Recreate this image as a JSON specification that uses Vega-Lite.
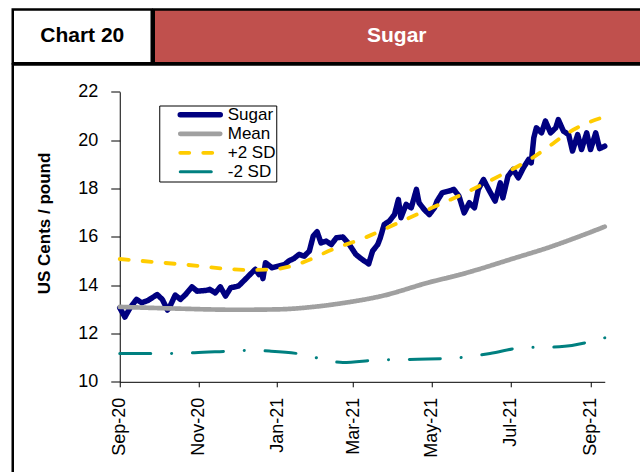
{
  "$schema": "https://vega.github.io/schema/vega-lite/v6.json",
  "padding": {"left": 10.75, "top": 7.5, "right": 0, "bottom": 0},
  "background": "white",
  "spacing": -2.5,
  "bounds": "full",
  "config": {
    "view": {"stroke": null},
    "font": "Liberation Sans"
  },
  "datasets": {
    "sugar": [
      {"date": "2020-09-01", "value": 13.06, "series": "Sugar"},
      {"date": "2020-09-05", "value": 12.68, "series": "Sugar"},
      {"date": "2020-09-09", "value": 13.06, "series": "Sugar"},
      {"date": "2020-09-14", "value": 13.41, "series": "Sugar"},
      {"date": "2020-09-18", "value": 13.27, "series": "Sugar"},
      {"date": "2020-09-23", "value": 13.37, "series": "Sugar"},
      {"date": "2020-09-30", "value": 13.61, "series": "Sugar"},
      {"date": "2020-10-04", "value": 13.41, "series": "Sugar"},
      {"date": "2020-10-08", "value": 12.97, "series": "Sugar"},
      {"date": "2020-10-10", "value": 13.13, "series": "Sugar"},
      {"date": "2020-10-14", "value": 13.59, "series": "Sugar"},
      {"date": "2020-10-18", "value": 13.41, "series": "Sugar"},
      {"date": "2020-10-22", "value": 13.61, "series": "Sugar"},
      {"date": "2020-10-27", "value": 13.93, "series": "Sugar"},
      {"date": "2020-10-31", "value": 13.75, "series": "Sugar"},
      {"date": "2020-11-07", "value": 13.78, "series": "Sugar"},
      {"date": "2020-11-10", "value": 13.82, "series": "Sugar"},
      {"date": "2020-11-14", "value": 13.68, "series": "Sugar"},
      {"date": "2020-11-18", "value": 13.93, "series": "Sugar"},
      {"date": "2020-11-22", "value": 13.55, "series": "Sugar"},
      {"date": "2020-11-26", "value": 13.89, "series": "Sugar"},
      {"date": "2020-12-02", "value": 13.96, "series": "Sugar"},
      {"date": "2020-12-06", "value": 14.17, "series": "Sugar"},
      {"date": "2020-12-11", "value": 14.44, "series": "Sugar"},
      {"date": "2020-12-15", "value": 14.65, "series": "Sugar"},
      {"date": "2020-12-18", "value": 14.44, "series": "Sugar"},
      {"date": "2020-12-20", "value": 14.58, "series": "Sugar"},
      {"date": "2020-12-21", "value": 14.27, "series": "Sugar"},
      {"date": "2020-12-23", "value": 14.93, "series": "Sugar"},
      {"date": "2020-12-28", "value": 14.72, "series": "Sugar"},
      {"date": "2021-01-02", "value": 14.79, "series": "Sugar"},
      {"date": "2021-01-07", "value": 14.86, "series": "Sugar"},
      {"date": "2021-01-10", "value": 15.0, "series": "Sugar"},
      {"date": "2021-01-14", "value": 15.1, "series": "Sugar"},
      {"date": "2021-01-18", "value": 15.27, "series": "Sugar"},
      {"date": "2021-01-22", "value": 15.2, "series": "Sugar"},
      {"date": "2021-01-26", "value": 15.41, "series": "Sugar"},
      {"date": "2021-01-29", "value": 16.03, "series": "Sugar"},
      {"date": "2021-02-01", "value": 16.21, "series": "Sugar"},
      {"date": "2021-02-04", "value": 15.75, "series": "Sugar"},
      {"date": "2021-02-08", "value": 15.82, "series": "Sugar"},
      {"date": "2021-02-12", "value": 15.68, "series": "Sugar"},
      {"date": "2021-02-16", "value": 15.96, "series": "Sugar"},
      {"date": "2021-02-21", "value": 15.99, "series": "Sugar"},
      {"date": "2021-02-26", "value": 15.68, "series": "Sugar"},
      {"date": "2021-03-03", "value": 15.27, "series": "Sugar"},
      {"date": "2021-03-08", "value": 15.06, "series": "Sugar"},
      {"date": "2021-03-13", "value": 14.88, "series": "Sugar"},
      {"date": "2021-03-16", "value": 15.41, "series": "Sugar"},
      {"date": "2021-03-20", "value": 15.68, "series": "Sugar"},
      {"date": "2021-03-22", "value": 15.96, "series": "Sugar"},
      {"date": "2021-03-25", "value": 16.51, "series": "Sugar"},
      {"date": "2021-03-29", "value": 16.65, "series": "Sugar"},
      {"date": "2021-04-02", "value": 16.92, "series": "Sugar"},
      {"date": "2021-04-05", "value": 17.54, "series": "Sugar"},
      {"date": "2021-04-07", "value": 16.79, "series": "Sugar"},
      {"date": "2021-04-11", "value": 17.34, "series": "Sugar"},
      {"date": "2021-04-15", "value": 17.2, "series": "Sugar"},
      {"date": "2021-04-19", "value": 17.96, "series": "Sugar"},
      {"date": "2021-04-21", "value": 17.41, "series": "Sugar"},
      {"date": "2021-04-25", "value": 17.13, "series": "Sugar"},
      {"date": "2021-04-29", "value": 16.92, "series": "Sugar"},
      {"date": "2021-05-03", "value": 17.2, "series": "Sugar"},
      {"date": "2021-05-05", "value": 17.48, "series": "Sugar"},
      {"date": "2021-05-09", "value": 17.82, "series": "Sugar"},
      {"date": "2021-05-14", "value": 17.89, "series": "Sugar"},
      {"date": "2021-05-18", "value": 17.96, "series": "Sugar"},
      {"date": "2021-05-22", "value": 17.68, "series": "Sugar"},
      {"date": "2021-05-26", "value": 16.99, "series": "Sugar"},
      {"date": "2021-05-30", "value": 17.41, "series": "Sugar"},
      {"date": "2021-06-03", "value": 17.2, "series": "Sugar"},
      {"date": "2021-06-06", "value": 17.96, "series": "Sugar"},
      {"date": "2021-06-10", "value": 18.37, "series": "Sugar"},
      {"date": "2021-06-14", "value": 17.96, "series": "Sugar"},
      {"date": "2021-06-19", "value": 17.48, "series": "Sugar"},
      {"date": "2021-06-23", "value": 18.23, "series": "Sugar"},
      {"date": "2021-06-25", "value": 17.61, "series": "Sugar"},
      {"date": "2021-06-29", "value": 18.51, "series": "Sugar"},
      {"date": "2021-07-03", "value": 18.79, "series": "Sugar"},
      {"date": "2021-07-07", "value": 18.44, "series": "Sugar"},
      {"date": "2021-07-11", "value": 18.86, "series": "Sugar"},
      {"date": "2021-07-15", "value": 19.2, "series": "Sugar"},
      {"date": "2021-07-17", "value": 19.06, "series": "Sugar"},
      {"date": "2021-07-19", "value": 20.1, "series": "Sugar"},
      {"date": "2021-07-21", "value": 20.51, "series": "Sugar"},
      {"date": "2021-07-25", "value": 20.3, "series": "Sugar"},
      {"date": "2021-07-28", "value": 20.79, "series": "Sugar"},
      {"date": "2021-08-01", "value": 20.3, "series": "Sugar"},
      {"date": "2021-08-05", "value": 20.51, "series": "Sugar"},
      {"date": "2021-08-07", "value": 20.85, "series": "Sugar"},
      {"date": "2021-08-11", "value": 20.37, "series": "Sugar"},
      {"date": "2021-08-15", "value": 20.23, "series": "Sugar"},
      {"date": "2021-08-18", "value": 19.55, "series": "Sugar"},
      {"date": "2021-08-22", "value": 20.23, "series": "Sugar"},
      {"date": "2021-08-25", "value": 19.61, "series": "Sugar"},
      {"date": "2021-08-29", "value": 20.3, "series": "Sugar"},
      {"date": "2021-09-01", "value": 19.61, "series": "Sugar"},
      {"date": "2021-09-05", "value": 20.3, "series": "Sugar"},
      {"date": "2021-09-08", "value": 19.65, "series": "Sugar"},
      {"date": "2021-09-12", "value": 19.75, "series": "Sugar"}
    ],
    "bands": [
      {"date": "2020-09-01", "value": 13.1, "series": "Mean"},
      {"date": "2020-10-15", "value": 13.03, "series": "Mean"},
      {"date": "2020-12-01", "value": 12.98, "series": "Mean"},
      {"date": "2021-01-03", "value": 13.0, "series": "Mean"},
      {"date": "2021-01-29", "value": 13.1, "series": "Mean"},
      {"date": "2021-02-20", "value": 13.25, "series": "Mean"},
      {"date": "2021-03-24", "value": 13.56, "series": "Mean"},
      {"date": "2021-04-28", "value": 14.1, "series": "Mean"},
      {"date": "2021-05-24", "value": 14.45, "series": "Mean"},
      {"date": "2021-07-03", "value": 15.1, "series": "Mean"},
      {"date": "2021-07-30", "value": 15.55, "series": "Mean"},
      {"date": "2021-08-25", "value": 16.05, "series": "Mean"},
      {"date": "2021-09-12", "value": 16.42, "series": "Mean"},
      {"date": "2020-09-01", "value": 15.08, "series": "+2 SD"},
      {"date": "2020-10-19", "value": 14.86, "series": "+2 SD"},
      {"date": "2020-12-10", "value": 14.63, "series": "+2 SD"},
      {"date": "2020-12-28", "value": 14.65, "series": "+2 SD"},
      {"date": "2021-01-20", "value": 14.92, "series": "+2 SD"},
      {"date": "2021-02-13", "value": 15.48, "series": "+2 SD"},
      {"date": "2021-03-10", "value": 15.96, "series": "+2 SD"},
      {"date": "2021-04-05", "value": 16.58, "series": "+2 SD"},
      {"date": "2021-05-01", "value": 17.2, "series": "+2 SD"},
      {"date": "2021-05-27", "value": 17.82, "series": "+2 SD"},
      {"date": "2021-06-22", "value": 18.51, "series": "+2 SD"},
      {"date": "2021-07-18", "value": 19.27, "series": "+2 SD"},
      {"date": "2021-07-31", "value": 19.75, "series": "+2 SD"},
      {"date": "2021-08-13", "value": 20.25, "series": "+2 SD"},
      {"date": "2021-08-30", "value": 20.72, "series": "+2 SD"},
      {"date": "2021-09-12", "value": 20.97, "series": "+2 SD"},
      {"date": "2020-09-01", "value": 11.17, "series": "\u00a0-2 SD"},
      {"date": "2020-09-29", "value": 11.17, "series": "\u00a0-2 SD"},
      {"date": "2020-10-29", "value": 11.2, "series": "\u00a0-2 SD"},
      {"date": "2020-11-26", "value": 11.27, "series": "\u00a0-2 SD"},
      {"date": "2020-12-11", "value": 11.3, "series": "\u00a0-2 SD"},
      {"date": "2020-12-26", "value": 11.27, "series": "\u00a0-2 SD"},
      {"date": "2021-01-23", "value": 11.11, "series": "\u00a0-2 SD"},
      {"date": "2021-02-06", "value": 10.92, "series": "\u00a0-2 SD"},
      {"date": "2021-02-21", "value": 10.8, "series": "\u00a0-2 SD"},
      {"date": "2021-03-20", "value": 10.9, "series": "\u00a0-2 SD"},
      {"date": "2021-04-20", "value": 10.93, "series": "\u00a0-2 SD"},
      {"date": "2021-05-16", "value": 10.97, "series": "\u00a0-2 SD"},
      {"date": "2021-06-01", "value": 11.06, "series": "\u00a0-2 SD"},
      {"date": "2021-06-15", "value": 11.17, "series": "\u00a0-2 SD"},
      {"date": "2021-07-14", "value": 11.43, "series": "\u00a0-2 SD"},
      {"date": "2021-07-29", "value": 11.43, "series": "\u00a0-2 SD"},
      {"date": "2021-08-12", "value": 11.47, "series": "\u00a0-2 SD"},
      {"date": "2021-09-12", "value": 11.82, "series": "\u00a0-2 SD"}
    ]
  },
  "vconcat": [
    {
      "hconcat": [
        {
          "width": 139,
          "height": 53.75,
          "view": {"fill": "white", "stroke": "black", "strokeWidth": 2.5},
          "data": {"values": [{"t": "Chart 20"}]},
          "mark": {"type": "text", "fontSize": 21, "fontWeight": "bold", "color": "black", "align": "center", "baseline": "middle", "font": "Liberation Sans"},
          "encoding": {"text": {"field": "t"}}
        },
        {
          "width": 500,
          "height": 53.75,
          "view": {"fill": "#C0504D", "stroke": "black", "strokeWidth": 2.5},
          "data": {"values": [{"t": "Sugar"}]},
          "mark": {"type": "text", "fontSize": 21, "fontWeight": "bold", "color": "white", "align": "center", "baseline": "middle", "dx": -7, "font": "Liberation Sans"},
          "encoding": {"text": {"field": "t"}}
        }
      ],
      "spacing": -2.5,
      "bounds": "full"
    },
    {
      "width": 632,
      "height": 412,
      "view": {"fill": "white", "stroke": "black", "strokeWidth": 2.5},
      "encoding": {
        "x": {
          "field": "date",
          "type": "temporal",
          "scale": {
            "type": "utc",
            "domain": [{"year": 2020, "month": 9, "date": 1, "utc": true}, {"year": 2021, "month": 9, "date": 12, "utc": true}],
            "range": [107, 592],
            "nice": false
          },
          "axis": {
            "title": null,
            "orient": "bottom",
            "offset": -94.7,
            "values": [
              {"year": 2020, "month": 9, "date": 1, "utc": true},
              {"year": 2020, "month": 11, "date": 1, "utc": true},
              {"year": 2021, "month": 1, "date": 1, "utc": true},
              {"year": 2021, "month": 3, "date": 1, "utc": true},
              {"year": 2021, "month": 5, "date": 1, "utc": true},
              {"year": 2021, "month": 7, "date": 1, "utc": true},
              {"year": 2021, "month": 9, "date": 1, "utc": true}
            ],
            "labelExpr": "utcFormat(datum.value, '%b-%y')",
            "labelAngle": 270,
            "labelAlign": "right",
            "labelBaseline": "middle",
            "labelFontSize": 18,
            "labelFont": "Liberation Sans",
            "labelColor": "black",
            "labelPadding": 10.5,
            "labelFlush": false,
            "labelOverlap": false,
            "tickSize": 5,
            "tickColor": "black",
            "domainColor": "black",
            "grid": false
          }
        },
        "y": {
          "field": "value",
          "type": "quantitative",
          "scale": {"domain": [10, 22], "range": [317.3, 27.3], "nice": false, "zero": false},
          "axis": {
            "title": "US Cents / pound",
            "offset": -107,
            "values": [10, 12, 14, 16, 18, 20, 22],
            "tickSize": 9,
            "tickColor": "black",
            "domainColor": "black",
            "labelFontSize": 18,
            "labelFont": "Liberation Sans",
            "labelColor": "black",
            "labelPadding": 13,
            "titleFontSize": 17,
            "titleFont": "Liberation Sans",
            "titleFontWeight": "bold",
            "titleColor": "black",
            "titleX": -66,
            "titleY": 158.5,
            "grid": false
          }
        },
        "color": {
          "field": "series",
          "type": "nominal",
          "scale": {"domain": ["Sugar", "Mean", "+2 SD", "\u00a0-2 SD"], "range": ["#000080", "#A0A0A0", "#FFCC00", "#008080"]},
          "legend": {
            "title": null,
            "orient": "none",
            "legendX": 146.5,
            "legendY": 96,
            "strokeColor": "black",
            "fillColor": "white",
            "padding": 0,
            "symbolOffset": 18,
            "labelOffset": 4.5,
            "labelFontSize": 17,
            "labelFont": "Liberation Sans",
            "labelColor": "black",
            "symbolSize": 1600,
            "symbolType": "stroke",
            "clipHeight": 18.7,
            "rowPadding": 0,
            "encode": {"symbols": {"update": {"strokeCap": {"value": "round"}}}}
          }
        },
        "strokeDash": {
          "field": "series",
          "type": "nominal",
          "scale": {"domain": ["Sugar", "Mean", "+2 SD", "\u00a0-2 SD"], "range": [[1, 0], [1, 0], [9, 14], [31, 20.8, 0.1, 20.8]]}
        },
        "strokeWidth": {
          "field": "series",
          "type": "nominal",
          "scale": {"domain": ["Sugar", "Mean", "+2 SD", "\u00a0-2 SD"], "range": [5.5, 3, 5, 5]}
        }
      },
      "layer": [
        {
          "data": {"name": "sugar"},
          "mark": {"type": "line", "strokeCap": "round", "strokeJoin": "round"}
        },
        {
          "data": {"name": "bands"},
          "mark": {"type": "line", "interpolate": "monotone", "strokeCap": "round", "strokeJoin": "round"}
        }
      ]
    }
  ]
}
